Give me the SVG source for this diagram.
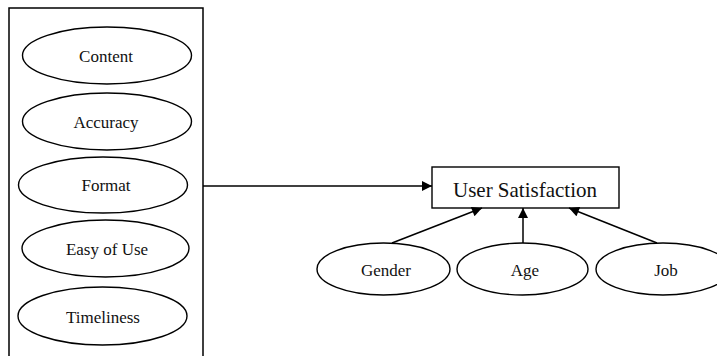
<svg xmlns="http://www.w3.org/2000/svg" width="717" height="356" viewBox="0 0 717 356">
  <style>
    .shape { fill: #ffffff; stroke: #000000; stroke-width: 1.4; }
    .edge { fill: none; stroke: #000000; stroke-width: 1.5; }
    .label { font-family: "Liberation Serif", "Times New Roman", serif; font-size: 17px; fill: #111111; text-anchor: middle; }
    .title { font-family: "Liberation Serif", "Times New Roman", serif; font-size: 21px; fill: #111111; text-anchor: middle; }
  </style>
  <defs>
    <marker id="arrow" viewBox="0 0 10 10" refX="10" refY="5" markerWidth="12" markerHeight="10" markerUnits="userSpaceOnUse" orient="auto">
      <path d="M0,0 L10,5 L0,10 Z" fill="#000000"/>
    </marker>
  </defs>
  <rect width="717" height="356" fill="#ffffff"/>

  <!-- cluster of information-quality factors (open at the bottom) -->
  <g id="factors">
    <path class="edge" d="M9,360 L9,8 L203,8 L203,360"/>
  </g>

  <g id="content">
    <ellipse class="shape" cx="107" cy="55.5" rx="84.5" ry="28.5"/>
    <text class="label" x="106" y="62">Content</text>
  </g>
  <g id="accuracy">
    <ellipse class="shape" cx="107" cy="121.5" rx="84.5" ry="28.5"/>
    <text class="label" x="106" y="128">Accuracy</text>
  </g>
  <g id="format">
    <ellipse class="shape" cx="103" cy="185" rx="84.5" ry="28"/>
    <text class="label" x="106" y="191">Format</text>
  </g>
  <g id="easy-of-use">
    <ellipse class="shape" cx="105.5" cy="248.5" rx="83.5" ry="28.5"/>
    <text class="label" x="107" y="255">Easy of Use</text>
  </g>
  <g id="timeliness">
    <ellipse class="shape" cx="102.5" cy="316" rx="84.5" ry="29"/>
    <text class="label" x="103" y="323">Timeliness</text>
  </g>

  <g id="user-satisfaction">
    <rect class="shape" x="432" y="167" width="187" height="41"/>
    <text class="title" x="525" y="197">User Satisfaction</text>
  </g>

  <g id="gender">
    <ellipse class="shape" cx="383.5" cy="269" rx="66.5" ry="26"/>
    <text class="label" x="386" y="276">Gender</text>
  </g>
  <g id="age">
    <ellipse class="shape" cx="522.5" cy="269" rx="65.5" ry="26"/>
    <text class="label" x="525" y="276">Age</text>
  </g>
  <g id="job">
    <ellipse class="shape" cx="663" cy="269" rx="67" ry="26"/>
    <text class="label" x="666" y="276">Job</text>
  </g>

  <g id="connectors">
    <path class="edge" d="M203,186 L432,186" marker-end="url(#arrow)"/>
    <path class="edge" d="M392,243 L482,208" marker-end="url(#arrow)"/>
    <path class="edge" d="M523,243 L523,208" marker-end="url(#arrow)"/>
    <path class="edge" d="M657,243 L569,208" marker-end="url(#arrow)"/>
  </g>
</svg>
